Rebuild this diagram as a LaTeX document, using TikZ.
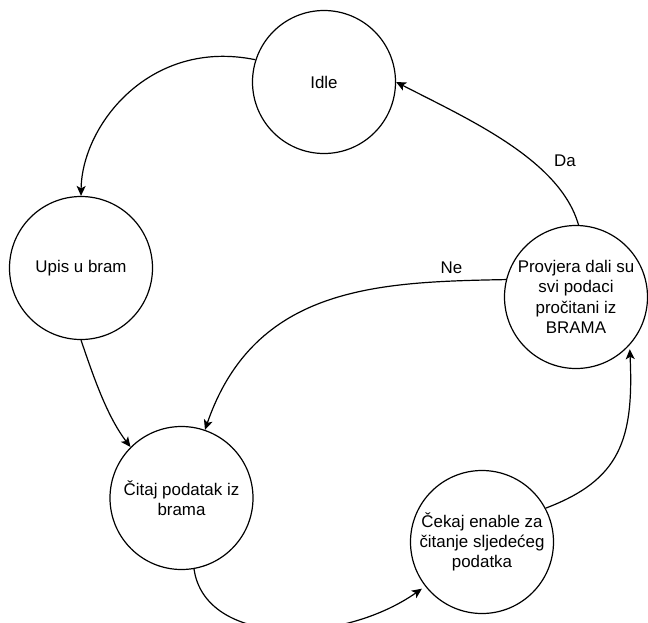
\documentclass[tikz,border=0pt]{standalone}
\usepackage{fontspec}
\setmainfont{Liberation Sans}
\usetikzlibrary{arrows.meta}
\begin{document}
\begin{tikzpicture}[x=1pt,y=-1pt,
  state/.style={draw,circle,line width=1.2pt,minimum size=143pt,inner sep=0pt,align=center,
    font=\fontsize{16.9}{20.3}\selectfont},
  trans/.style={line width=1.2pt,-{Stealth[length=10pt,width=9pt,inset=2.5pt]}},
  lbl/.style={font=\fontsize{16.9}{20.3}\selectfont,inner sep=0pt}]
\useasboundingbox (0,0) rectangle (648,622);
\node[state] (idle) at (324,82) {Idle};
\node[state] (upis) at (81,268) {Upis u bram};
\node[state] (citaj) at (181.5,498) {Čitaj podatak iz\\brama};
\node[state] (cekaj) at (482,542) {Čekaj enable za\\čitanje sljedećeg\\podatka};
\node[state] (prov) at (576,297) {Provjera dali su\\svi podaci\\pročitani iz\\BRAMA};
\draw[trans] (idle.162) .. controls (150,38) and (82,125) .. (upis.90);
\draw[trans] (upis.270) .. controls (92,372) and (106,415) .. (citaj.135);
\draw[trans,shorten >=4pt] (citaj.280) .. controls (205,646) and (340,646) .. (cekaj.218);
\draw[trans,shorten >=4pt] (cekaj.28) .. controls (620,480) and (634,440) .. (prov.318);
\draw[trans] (prov.88) .. controls (560,160) and (470,120) .. (idle.0);
\draw[trans] (prov.166) .. controls (380,282) and (255,285) .. (citaj.71);
\node[lbl] (da) at (565,161) {Da};
\node[lbl] (ne) at (451.5,268) {Ne};
\end{tikzpicture}
\end{document}
